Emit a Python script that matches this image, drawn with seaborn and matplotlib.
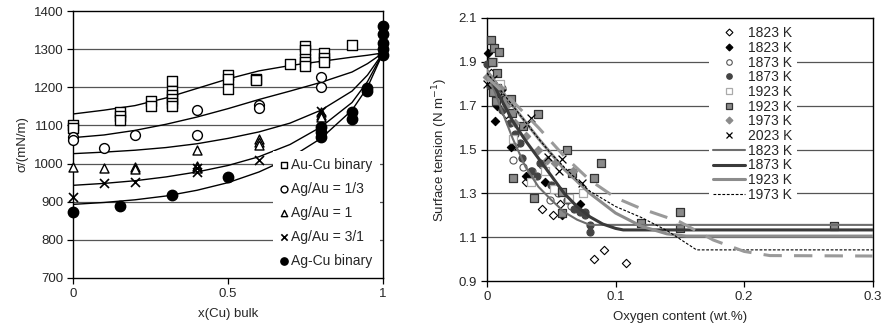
import matplotlib
matplotlib.use("Agg")
import matplotlib.pyplot as plt
import seaborn as sns
import pandas as pd
from matplotlib.lines import Line2D

sns.set_style("white")
plt.rcParams['font.family'] = ['Liberation Sans', 'DejaVu Sans']
plt.rcParams['font.size'] = 9.5

# ---------------- Left panel data ----------------
aucu_x = [0, 0, 0.15, 0.15, 0.15, 0.25, 0.25, 0.32, 0.32, 0.32, 0.32, 0.32, 0.32, 0.5, 0.5, 0.5,
          0.59, 0.59, 0.70, 0.75, 0.75, 0.75, 0.75, 0.75, 0.81, 0.81, 0.81, 0.9]
aucu_y = [1100, 1092, 1135, 1125, 1115, 1165, 1150, 1217, 1190, 1180, 1170, 1160, 1150, 1232, 1222, 1195,
          1222, 1218, 1260, 1308, 1298, 1275, 1265, 1255, 1290, 1277, 1265, 1311]
ag13_x = [0, 0, 0.1, 0.2, 0.4, 0.4, 0.6, 0.6, 0.8, 0.8]
ag13_y = [1070, 1062, 1040, 1075, 1140, 1075, 1153, 1145, 1228, 1201]
ag1_x = [0, 0.1, 0.2, 0.2, 0.4, 0.4, 0.4, 0.6, 0.6, 0.6, 0.8, 0.8, 0.8]
ag1_y = [990, 988, 990, 985, 1035, 993, 988, 1065, 1057, 1050, 1135, 1128, 1122]
ag31_x = [0, 0.1, 0.2, 0.4, 0.4, 0.6, 0.8]
ag31_y = [913, 950, 952, 978, 988, 1010, 1138]
agcu_x = [0, 0.15, 0.32, 0.5, 0.8, 0.8, 0.8, 0.9, 0.9, 0.95, 0.95, 1, 1, 1, 1, 1]
agcu_y = [873, 888, 917, 965, 1095, 1083, 1070, 1135, 1118, 1197, 1190, 1360, 1340, 1315, 1300, 1285]

model_x = [0, 0.1, 0.2, 0.3, 0.4, 0.5, 0.6, 0.7, 0.8, 0.9, 0.95, 1.0]
model_aucu = [1130, 1140, 1152, 1172, 1197, 1222, 1243, 1257, 1268, 1279, 1284, 1290]
model_ag13 = [1068, 1075, 1087, 1103, 1122, 1144, 1168, 1190, 1213, 1240, 1262, 1290]
model_ag1 = [1026, 1030, 1035, 1042, 1052, 1066, 1083, 1106, 1140, 1190, 1232, 1290]
model_ag31 = [943, 948, 955, 965, 978, 995, 1018, 1050, 1096, 1160, 1215, 1290]
model_agcu = [893, 898, 905, 915, 930, 950, 978, 1015, 1066, 1140, 1200, 1290]

left_labels = ["Au-Cu binary", "Ag/Au = 1/3", "Ag/Au = 1", "Ag/Au = 3/1", "Ag-Cu binary"]

# ---------------- Right panel data ----------------
o1823_x = [0.003, 0.008, 0.015, 0.022, 0.030, 0.043, 0.051, 0.057, 0.083, 0.091, 0.108]
o1823_y = [1.85, 1.78, 1.66, 1.52, 1.35, 1.23, 1.20, 1.25, 1.00, 1.04, 0.98]
f1823_x = [0.001, 0.0065, 0.0075, 0.019, 0.030, 0.033, 0.045, 0.058, 0.072]
f1823_y = [1.94, 1.63, 1.70, 1.51, 1.38, 1.37, 1.35, 1.20, 1.25]
o1873_x = [0.005, 0.012, 0.02, 0.028, 0.035, 0.043, 0.049, 0.055, 0.065]
o1873_y = [1.90, 1.78, 1.45, 1.42, 1.40, 1.43, 1.27, 1.30, 1.24]
f1873_x = [0.0, 0.002, 0.008, 0.012, 0.018, 0.022, 0.026, 0.027, 0.034, 0.039, 0.041, 0.05, 0.053,
           0.057, 0.062, 0.068, 0.072, 0.076, 0.076, 0.080, 0.080]
f1873_y = [1.89, 1.79, 1.75, 1.68, 1.62, 1.57, 1.53, 1.46, 1.40, 1.38, 1.44, 1.34, 1.315,
           1.31, 1.27, 1.23, 1.215, 1.215, 1.20, 1.156, 1.125]
o1923_x = [0.005, 0.01, 0.02, 0.034, 0.045, 0.052, 0.064, 0.075]
o1923_y = [1.90, 1.80, 1.55, 1.35, 1.40, 1.32, 1.28, 1.30]
f1923_x = [0.003, 0.0055, 0.0093, 0.004, 0.0075, 0.008, 0.0101, 0.0047, 0.0068, 0.0146, 0.019, 0.0197,
           0.028, 0.040, 0.0205, 0.0366, 0.058, 0.062, 0.066, 0.0833, 0.0888, 0.058, 0.120, 0.150,
           0.150, 0.270]
f1923_y = [2.0, 1.962, 1.946, 1.90, 1.848, 1.779, 1.76, 1.764, 1.72, 1.726, 1.73, 1.665,
           1.607, 1.66, 1.372, 1.277, 1.209, 1.498, 1.394, 1.369, 1.437, 1.308, 1.166, 1.216,
           1.143, 1.151]
f1973_x = [0.0, 0.004, 0.01, 0.015, 0.022, 0.03, 0.04, 0.047, 0.053, 0.067]
f1973_y = [1.83, 1.80, 1.78, 1.70, 1.62, 1.56, 1.50, 1.45, 1.44, 1.40]
x2023_x = [0.0, 0.005, 0.012, 0.031, 0.0345, 0.0477, 0.058, 0.0562, 0.0737]
x2023_y = [1.80, 1.82, 1.76, 1.615, 1.645, 1.467, 1.455, 1.40, 1.347]

l1823_x = [0, 0.01, 0.02, 0.03, 0.04, 0.05, 0.06, 0.07, 0.08, 0.3]
l1823_y = [1.86, 1.70, 1.55, 1.42, 1.33, 1.27, 1.215, 1.18, 1.156, 1.156]
l1873_x = [0, 0.01, 0.02, 0.03, 0.04, 0.05, 0.06, 0.07, 0.08, 0.09, 0.1, 0.106, 0.3]
l1873_y = [1.86, 1.74, 1.63, 1.54, 1.46, 1.38, 1.30, 1.24, 1.193, 1.16, 1.14, 1.133, 1.133]
l1923_x = [0, 0.02, 0.04, 0.06, 0.08, 0.1, 0.12, 0.14, 0.155, 0.3]
l1923_y = [1.86, 1.70, 1.55, 1.41, 1.30, 1.21, 1.15, 1.115, 1.105, 1.105]
l1973_x = [0, 0.02, 0.04, 0.05, 0.06, 0.072, 0.08, 0.1, 0.12, 0.14, 0.163, 0.3]
l1973_y = [1.85, 1.70, 1.55, 1.48, 1.42, 1.35, 1.31, 1.24, 1.19, 1.13, 1.042, 1.042]
l2023_x = [0, 0.02, 0.04, 0.06, 0.08, 0.1, 0.12, 0.15, 0.176, 0.2, 0.22, 0.3]
l2023_y = [1.83, 1.72, 1.60, 1.47, 1.36, 1.28, 1.23, 1.17, 1.087, 1.035, 1.016, 1.014]

# ---------------- Figure ----------------
fig = plt.figure(figsize=(8.84, 3.33), dpi=100)
axL = fig.add_axes([73 / 884, 55 / 333, 310 / 884, 267 / 333])
axR = fig.add_axes([487 / 884, 52 / 333, 385.7 / 884, 263 / 333])

grid_c = '#555555'

# Left panel
for yv in [800, 900, 1000, 1100, 1200, 1300]:
    axL.axhline(yv, color=grid_c, lw=0.9, zorder=0)

for my in [model_aucu, model_ag13, model_ag1, model_ag31, model_agcu]:
    sns.lineplot(x=model_x, y=my, ax=axL, color='black', lw=1.0, sort=False,
                 estimator=None, legend=False, zorder=2)

ms = 42
sns.scatterplot(x=aucu_x, y=aucu_y, ax=axL, marker='s', s=ms, facecolor='white',
                edgecolor='black', linewidth=1.0, zorder=3, label=left_labels[0], clip_on=False)
sns.scatterplot(x=ag13_x, y=ag13_y, ax=axL, marker='o', s=ms + 8, facecolor='white',
                edgecolor='black', linewidth=1.0, zorder=3, label=left_labels[1], clip_on=False)
sns.scatterplot(x=ag1_x, y=ag1_y, ax=axL, marker='^', s=ms, facecolor='white',
                edgecolor='black', linewidth=1.0, zorder=3, label=left_labels[2], clip_on=False)
sns.scatterplot(x=ag31_x, y=ag31_y, ax=axL, marker='x', s=ms, color='black',
                linewidth=1.2, zorder=3, label=left_labels[3], clip_on=False)
sns.scatterplot(x=agcu_x, y=agcu_y, ax=axL, marker='o', s=ms + 14, facecolor='black',
                edgecolor='black', linewidth=1.0, zorder=3, label=left_labels[4], clip_on=False)

axL.set_xlim(0, 1)
axL.set_ylim(700, 1400)
axL.set_xticks([0, 0.5, 1])
axL.set_xticklabels(['0', '0.5', '1'])
axL.set_yticks(range(700, 1401, 100))
axL.set_xlabel('x(Cu) bulk', fontsize=9.5, labelpad=6)
axL.set_ylabel('σ/(mN/m)', fontsize=9.5, labelpad=4)
legL = axL.legend(loc='lower right', bbox_to_anchor=(1.0, 0.0), frameon=True, framealpha=1,
                  edgecolor='white', fancybox=False, markerscale=0.7, handlelength=0.6,
                  handletextpad=0.25, labelspacing=0.72, borderpad=0.5, fontsize=10,
                  borderaxespad=0.25)
legL.get_frame().set_linewidth(0)

# Right panel
for yv in [1.1, 1.3, 1.5, 1.7, 1.9]:
    axR.axhline(yv, color=grid_c, lw=0.9, zorder=0)

rs = 18
kw = dict(ax=axR, zorder=3, clip_on=False)
sns.scatterplot(x=o1823_x, y=o1823_y, marker='D', s=rs, facecolor='white',
                edgecolor='black', linewidth=0.8, **kw)
sns.scatterplot(x=f1823_x, y=f1823_y, marker='D', s=rs, facecolor='black',
                edgecolor='black', linewidth=0.8, **kw)
sns.scatterplot(x=o1873_x, y=o1873_y, marker='o', s=rs + 8, facecolor='white',
                edgecolor='#555555', linewidth=0.8, **kw)
sns.scatterplot(x=f1873_x, y=f1873_y, marker='o', s=rs + 8, facecolor='#444444',
                edgecolor='#444444', linewidth=0.8, **kw)
sns.scatterplot(x=o1923_x, y=o1923_y, marker='s', s=rs + 10, facecolor='white',
                edgecolor='#aaaaaa', linewidth=0.9, **kw)
sns.scatterplot(x=f1923_x, y=f1923_y, marker='s', s=rs + 10, facecolor='#8a8a8a',
                edgecolor='#333333', linewidth=0.9, **kw)
sns.scatterplot(x=f1973_x, y=f1973_y, marker='D', s=rs, facecolor='#8a8a8a',
                edgecolor='#8a8a8a', linewidth=0.8, **kw)
sns.scatterplot(x=x2023_x, y=x2023_y, marker='x', s=rs + 14, color='black',
                linewidth=0.9, **kw)

sns.lineplot(x=l1823_x, y=l1823_y, ax=axR, color='#6e6e6e', lw=1.5, sort=False,
             estimator=None, zorder=4)
sns.lineplot(x=l1873_x, y=l1873_y, ax=axR, color='#3a3a3a', lw=2.2, sort=False,
             estimator=None, zorder=4)
sns.lineplot(x=l1923_x, y=l1923_y, ax=axR, color='#8c8c8c', lw=2.2, sort=False,
             estimator=None, zorder=4)
sns.lineplot(x=l1973_x, y=l1973_y, ax=axR, color='black', lw=0.8, sort=False,
             estimator=None, zorder=4, linestyle=(0, (2.5, 1.5)))
sns.lineplot(x=l2023_x, y=l2023_y, ax=axR, color='#9a9a9a', lw=2.2, sort=False,
             estimator=None, zorder=4, linestyle=(0, (6, 4)))

axR.set_xlim(0, 0.3)
axR.set_ylim(0.9, 2.1)
axR.set_xticks([0, 0.1, 0.2, 0.3])
axR.set_xticklabels(['0', '0.1', '0.2', '0.3'])
axR.set_yticks([0.9, 1.1, 1.3, 1.5, 1.7, 1.9, 2.1])
axR.set_yticklabels(['0.9', '1.1', '1.3', '1.5', '1.7', '1.9', '2.1'])
axR.set_xlabel('Oxygen content (wt.%)', fontsize=9.5, labelpad=6)
axR.set_ylabel('Surface tension (N m$^{-1}$)', fontsize=9.5, labelpad=6)

handles = [
    Line2D([], [], ls='none', marker='D', ms=3.5, mfc='white', mec='black', mew=0.8),
    Line2D([], [], ls='none', marker='D', ms=3.5, mfc='black', mec='black', mew=0.8),
    Line2D([], [], ls='none', marker='o', ms=4, mfc='white', mec='#555555', mew=0.8),
    Line2D([], [], ls='none', marker='o', ms=4, mfc='#444444', mec='#444444', mew=0.8),
    Line2D([], [], ls='none', marker='s', ms=4, mfc='white', mec='#aaaaaa', mew=0.9),
    Line2D([], [], ls='none', marker='s', ms=4, mfc='#8a8a8a', mec='#333333', mew=0.9),
    Line2D([], [], ls='none', marker='D', ms=3.5, mfc='#8a8a8a', mec='#8a8a8a', mew=0.8),
    Line2D([], [], ls='none', marker='x', ms=4.5, color='black', mew=0.9),
    Line2D([], [], color='#6e6e6e', lw=1.5),
    Line2D([], [], color='#3a3a3a', lw=2.2),
    Line2D([], [], color='#8c8c8c', lw=2.2),
    Line2D([], [], color='black', lw=0.8, ls=(0, (2.5, 1.5))),
]
labels = ['1823 K', '1823 K', '1873 K', '1873 K', '1923 K', '1923 K', '1973 K', '2023 K',
          '1823 K', '1873 K', '1923 K', '1973 K']
legR = axR.legend(handles, labels, loc='upper left', bbox_to_anchor=(0.576, 0.985),
                  frameon=True, framealpha=1, edgecolor='white', fancybox=False,
                  handlelength=2.3, handletextpad=0.2, labelspacing=0.05, borderpad=0.3,
                  fontsize=10, borderaxespad=0.0)
legR.get_frame().set_linewidth(0)
legR.set_zorder(5)

for ax in (axL, axR):
    for sp in ax.spines.values():
        sp.set_visible(True)
        sp.set_color('black')
        sp.set_linewidth(1.0)
        sp.set_zorder(2.5)
    ax.tick_params(axis='both', direction='out', length=4, width=0.9, color='black',
                   labelsize=9.5, pad=3, left=True, bottom=True)

fig.savefig('out.png', dpi=100)
